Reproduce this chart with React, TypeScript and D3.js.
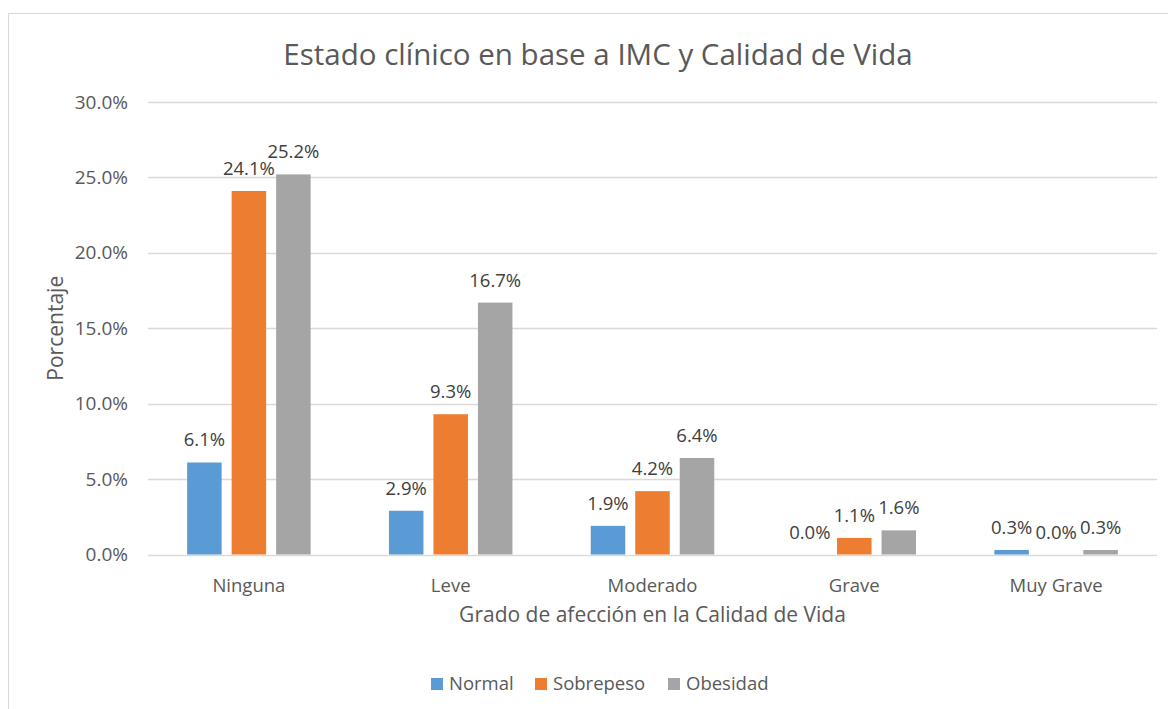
import * as d3 from 'd3';
import { useEffect, useRef } from 'react';

const categories = ['Ninguna', 'Leve', 'Moderado', 'Grave', 'Muy Grave'];
const seriesNames = ['Normal', 'Sobrepeso', 'Obesidad'];
const normal = [6.1, 2.9, 1.9, 0.0, 0.3];
const sobrepeso = [24.1, 9.3, 4.2, 1.1, 0.0];
const obesidad = [25.2, 16.7, 6.4, 1.6, 0.3];
const yTicks = [0, 5, 10, 15, 20, 25, 30];
const colors = ['#5B9BD5', '#ED7D31', '#A5A5A5'];

const W = 1168;
const H = 709;
const FONT = '"Open Sans", sans-serif';
const TEXT = '#595959';

export default function App() {
  const ref = useRef<SVGSVGElement>(null);

  useEffect(() => {
    const svg = d3.select(ref.current);
    svg.selectAll('*').remove();

    const series = [normal, sobrepeso, obesidad];
    const margin = { top: 102, right: 11, bottom: 154.5, left: 148 };
    const innerW = W - margin.left - margin.right;
    const innerH = H - margin.top - margin.bottom;

    // chart frame
    svg
      .append('rect')
      .attr('x', 8.5)
      .attr('y', 13.5)
      .attr('width', 1200)
      .attr('height', 900)
      .attr('fill', '#fff')
      .attr('stroke', '#D9D9D9')
      .attr('stroke-width', 1);

    const g = svg.append('g').attr('transform', `translate(${margin.left},${margin.top})`);

    const x0 = d3.scaleBand().domain(categories).range([0, innerW]).padding(0);
    const y = d3.scaleLinear().domain([0, 30]).range([innerH, 0]);
    const barW = 34.5;
    const step = 44.5;

    // gridlines
    g.selectAll('.grid')
      .data(yTicks)
      .join('line')
      .attr('x1', 0)
      .attr('x2', innerW)
      .attr('y1', (d) => Math.round(y(d)) + 0.5)
      .attr('y2', (d) => Math.round(y(d)) + 0.5)
      .attr('stroke', '#D9D9D9')
      .attr('stroke-width', 1.5);

    g.selectAll('.ytick')
      .data(yTicks)
      .join('text')
      .attr('x', -20)
      .attr('y', (d) => y(d))
      .attr('dy', '0.35em')
      .attr('text-anchor', 'end')
      .attr('font-family', FONT)
      .attr('font-size', 19)
      .attr('fill', TEXT)
      .text((d) => d3.format('.1f')(d) + '%');

    // bars
    series.forEach((vals, si) => {
      const off = (si - 1) * step - barW / 2;
      const grp = g.append('g');
      grp
        .selectAll('rect')
        .data(vals)
        .join('rect')
        .attr('x', (_, i) => x0(categories[i])! + x0.bandwidth() / 2 + off)
        .attr('y', (d) => y(d))
        .attr('width', barW)
        .attr('height', (d) => innerH - y(d))
        .attr('fill', colors[si]);
      grp
        .selectAll('text')
        .data(vals)
        .join('text')
        .attr('x', (_, i) => x0(categories[i])! + x0.bandwidth() / 2 + off + barW / 2)
        .attr('y', (d) => y(d) - 16)
        .attr('text-anchor', 'middle')
        .attr('font-family', FONT)
        .attr('font-size', 18.5)
        .attr('fill', '#404040')
        .text((d) => d3.format('.1f')(d) + '%');
    });

    // category labels
    g.selectAll('.xlabel')
      .data(categories)
      .join('text')
      .attr('x', (d) => x0(d)! + x0.bandwidth() / 2)
      .attr('y', innerH + 37)
      .attr('text-anchor', 'middle')
      .attr('font-family', FONT)
      .attr('font-size', 18.5)
      .attr('fill', TEXT)
      .text((d) => d);

    // title
    svg
      .append('text')
      .attr('x', 598)
      .attr('y', 65)
      .attr('text-anchor', 'middle')
      .attr('font-family', FONT)
      .attr('font-size', 29.5)
      .attr('fill', TEXT)
      .text('Estado clínico en base a IMC y Calidad de Vida');

    // axis titles
    svg
      .append('text')
      .attr('x', margin.left + innerW / 2)
      .attr('y', 622)
      .attr('text-anchor', 'middle')
      .attr('font-family', FONT)
      .attr('font-size', 21)
      .attr('fill', TEXT)
      .text('Grado de afección en la Calidad de Vida');

    svg
      .append('text')
      .attr('transform', `translate(63,${margin.top + innerH / 2}) rotate(-90)`)
      .attr('text-anchor', 'middle')
      .attr('font-family', FONT)
      .attr('font-size', 21)
      .attr('fill', TEXT)
      .text('Porcentaje');

    // legend
    const legendX = [431, 535, 668];
    const lg = svg.append('g');
    seriesNames.forEach((name, i) => {
      lg.append('rect')
        .attr('x', legendX[i])
        .attr('y', 678)
        .attr('width', 12)
        .attr('height', 12)
        .attr('fill', colors[i]);
      lg.append('text')
        .attr('x', legendX[i] + 18)
        .attr('y', 684)
        .attr('dy', '0.35em')
        .attr('font-family', FONT)
        .attr('font-size', 18.5)
        .attr('fill', TEXT)
        .text(name);
    });
  }, []);

  return (
    <svg
      ref={ref}
      width={W}
      height={H}
      style={{ position: 'absolute', left: 0, top: 0, background: '#fff' }}
    />
  );
}
